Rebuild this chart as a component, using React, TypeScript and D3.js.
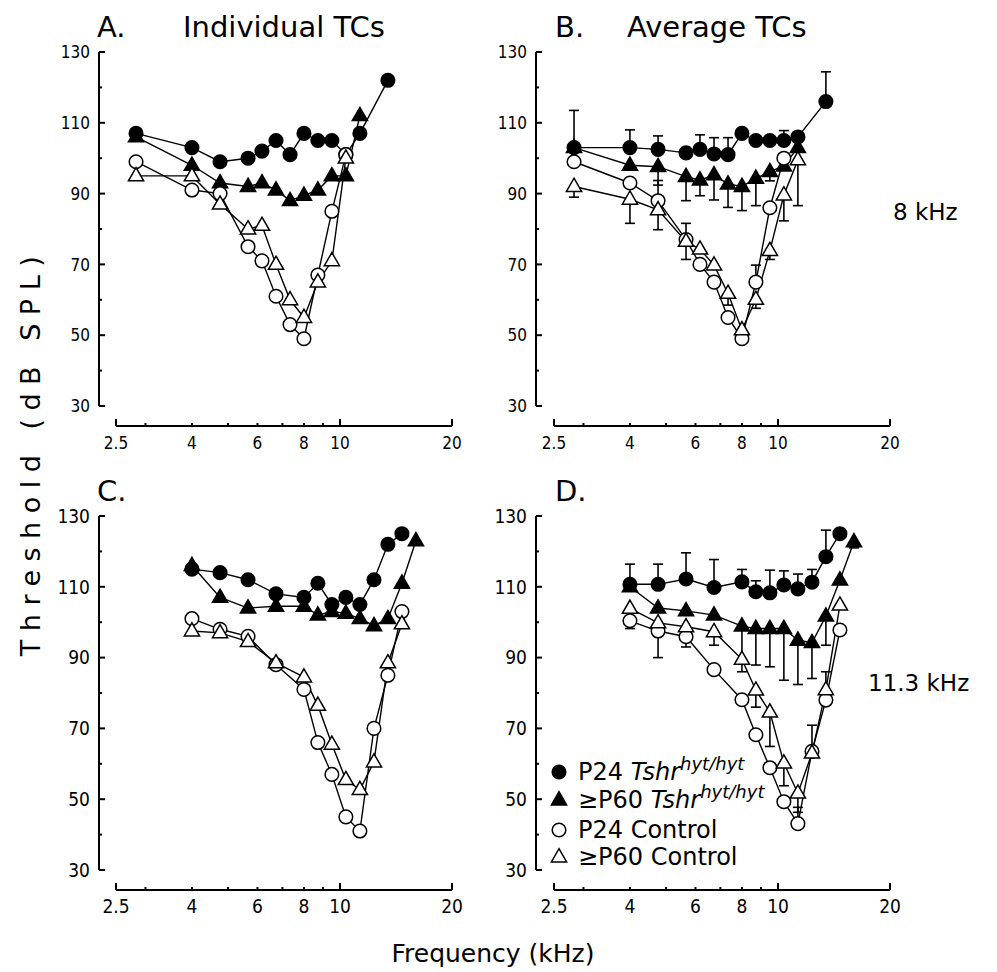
import React from "react";
import * as d3 from "d3";

// ---------- data ----------
const FREQ_8 = [2.83, 4, 4.76, 5.66, 6.17, 6.73, 7.34, 8, 8.72, 9.51, 10.37, 11.31, 13.45];
const FREQ_11 = [4, 4.76, 5.66, 6.73, 8, 8.72, 9.51, 10.37, 11.31, 12.34, 13.45, 14.67, 16];

const X_TICKS_MAJOR = [2.5, 10, 20];
const X_TICKS_MINOR = [3, 4, 5, 6, 7, 8, 9];
const X_TICK_LABELS = [2.5, 4, 6, 8, 10, 20];
const Y_TICKS_MAJOR = [30, 50, 70, 90, 110, 130];
const Y_TICKS_MINOR = [40, 60, 80, 100, 120];

// Panel A (individual, 8 kHz)
const A_P24_HYT = [107, 103, 99, 100, 102, 105, 101, 107, 105, 105, 101, 107, 122];
const A_P60_HYT = [106, 98, 93, 92, 93, 91, 88, 89.5, 91, 95, 95, 112];
const A_P24_CTL = [99, 91, 90, 75, 71, 61, 53, 49, 67, 85, 101];
const A_P60_CTL = [95, 95, 87, 80, 81, 70, 60, 55, 65, 71, 100];

// Panel B (average, 8 kHz) with error-bar ends
const B_P24_HYT = [103, 103, 102.5, 101.5, 102.5, 101.2, 101, 107, 105, 105, 105, 106, 116];
const B_P24_HYT_ERR = [113.5, 108, 106.3, 103, 106.6, 105.8, 105.8, null, null, null, 107.8, null, 124.4];
const B_P60_HYT = [103, 98, 97.6, 94.8, 93.8, 95.3, 92.7, 92, 94.3, 96.2, 97.8, 103];
const B_P60_HYT_ERR = [null, null, 92.4, 88, 89.4, 88.2, 86.1, 85.2, 86.6, 93.6, null, null];
const B_P24_CTL = [99, 93, 88, 77, 70, 65, 55, 49, 65, 86, 100];
const B_P24_CTL_ERR = [null, null, 93.7, 81.6, null, null, null, null, 69.8, null, null];
const B_P60_CTL = [92, 88.4, 85.4, 76.5, 74.3, 69.8, 61.8, 51.5, 60.1, 73.9, 89.6, 99.5];
const B_P60_CTL_ERR = [89, 81.6, 79.8, 71.4, null, null, 58.5, null, 57.6, 71.4, 82.3, 86.6];

// Panel C (individual, 11.3 kHz)
const C_P24_HYT = [115, 114, 112, 108, 107, 111, 105, 107, 105, 112, 122, 125];
const C_P60_HYT = [116, 107, 104, 104.5, 104.5, 102, 103, 102.5, 101, 99, 101, 111, 123];
const C_P24_CTL = [101, 98, 96, 88, 81, 66, 57, 45, 41, 70, 85, 103];
const C_P60_CTL = [97.5, 97, 94.5, 88.5, 84.5, 76.5, 65.5, 55.5, 52.7, 60.5, 88.5, 99.5];

// Panel D (average, 11.3 kHz)
const D_P24_HYT = [110.7, 110.7, 112.2, 109.8, 111.4, 108.6, 108.3, 110.5, 109.4, 111.3, 118.5, 125];
const D_P24_HYT_ERR = [116.4, 116.4, 119.6, 117.7, 114.9, 111.7, 114.7, 114.5, 113.6, 114.9, 126, null];
const D_P60_HYT = [110, 104, 103.2, 102, 98.9, 98.2, 98.2, 98.2, 94.9, 94.2, 101.7, 111.9, 122.7];
const D_P60_HYT_ERR = [null, null, null, null, 88.5, 87.9, 87.4, 83.6, 82.4, 84.1, 93.5, null, 121];
const D_P24_CTL = [100.4, 97.5, 95.9, 86.6, 78.1, 68.2, 58.9, 49.3, 43.1, 63.5, 78, 97.8];
const D_P24_CTL_ERR = [98.2, 90, 93, null, null, null, null, null, 47.7, 70.9, null, null];
const D_P60_CTL = [103.9, 99.8, 98.7, 97.3, 89.5, 80.8, 74.6, 60.2, 51.7, 63, 80.9, 104.8];
const D_P60_CTL_ERR = [null, null, null, 93.5, 86, 76, 64.9, 53.8, 46.3, null, 86, null];

const LEGEND = [
  { pre: "P24 ", it: "Tshr", sup: "hyt/hyt", shape: "circle", filled: true },
  { pre: "\u2265P60 ", it: "Tshr", sup: "hyt/hyt", shape: "triangle", filled: true },
  { pre: "P24  Control", it: "", sup: "", shape: "circle", filled: false },
  { pre: "\u2265P60  Control", it: "", sup: "", shape: "triangle", filled: false },
];

// ---------- drawing ----------
const FONT = "'DejaVu Sans', sans-serif";
const COND = "'DejaVu Sans Condensed', 'DejaVu Sans', sans-serif";
const R = 6.8;
const TRI = 100;

type Series = {
  values: number[];
  err?: (number | null)[];
  shape: "circle" | "triangle";
  filled: boolean;
};

const triPath = d3.symbol().type(d3.symbolTriangle).size(TRI)() as string;

function Marker({ cx, cy, shape, filled }: { cx: number; cy: number; shape: string; filled: boolean }) {
  const fill = filled ? "#000" : "#fff";
  if (shape === "circle")
    return <circle cx={cx} cy={cy} r={R} fill={fill} stroke="#000" strokeWidth={1.5} />;
  return <path d={triPath} transform={`translate(${cx},${cy + 0.5})`} fill={fill} stroke="#000" strokeWidth={1.5} />;
}

function Panel({
  axisX, x0, x1, yTop, yBot, xAxisY, freqs, series, tickSize,
}: {
  axisX: number; x0: number; x1: number; yTop: number; yBot: number; xAxisY: number;
  freqs: number[]; series: Series[]; tickSize: number;
}) {
  const x = d3.scaleLog().domain([2.5, 20]).range([x0, x1]);
  const y = d3.scaleLinear().domain([30, 130]).range([yBot, yTop]);
  const line = d3.line<number>().x((_, i) => x(freqs[i])).y((d) => y(d));
  return (
    <g>
      {/* y axis */}
      <line x1={axisX} x2={axisX} y1={y(130)} y2={y(30)} stroke="#000" strokeWidth={2} />
      {Y_TICKS_MAJOR.map((t) => (
        <g key={"ym" + t}>
          <line x1={axisX} x2={axisX + 6} y1={y(t)} y2={y(t)} stroke="#000" strokeWidth={2} />
          <text x={axisX - 9} y={y(t)} dy="0.36em" textAnchor="end" fontFamily={COND} fontSize={tickSize}>{t}</text>
        </g>
      ))}
      {Y_TICKS_MINOR.map((t) => (
        <line key={"yn" + t} x1={axisX} x2={axisX + 3} y1={y(t)} y2={y(t)} stroke="#000" strokeWidth={2} />
      ))}
      {/* x axis */}
      <line x1={x(2.5)} x2={x(20)} y1={xAxisY} y2={xAxisY} stroke="#000" strokeWidth={2} />
      {X_TICKS_MAJOR.map((t) => (
        <line key={"xm" + t} x1={x(t)} x2={x(t)} y1={xAxisY} y2={xAxisY - 7} stroke="#000" strokeWidth={2} />
      ))}
      {X_TICKS_MINOR.map((t) => (
        <line key={"xn" + t} x1={x(t)} x2={x(t)} y1={xAxisY} y2={xAxisY - 3} stroke="#000" strokeWidth={2} />
      ))}
      {X_TICK_LABELS.map((t) => (
        <text key={"xl" + t} x={x(t)} y={xAxisY + 23} textAnchor="middle" fontFamily={COND} fontSize={tickSize}>{t}</text>
      ))}
      {/* lines */}
      {series.map((s, k) => (
        <path key={"l" + k} d={line(s.values) as string} fill="none" stroke="#000" strokeWidth={1.4} />
      ))}
      {/* error bars */}
      {series.map((s, k) =>
        (s.err || []).map((e, i) =>
          e == null ? null : (
            <g key={"e" + k + "-" + i}>
              <line x1={x(freqs[i])} x2={x(freqs[i])} y1={y(s.values[i])} y2={y(e)} stroke="#000" strokeWidth={1.6} />
              <line x1={x(freqs[i]) - 5} x2={x(freqs[i]) + 5} y1={y(e)} y2={y(e)} stroke="#000" strokeWidth={1.6} />
            </g>
          )
        )
      )}
      {/* markers */}
      {series.map((s, k) =>
        s.values.map((v, i) => (
          <Marker key={"m" + k + "-" + i} cx={x(freqs[i])} cy={y(v)} shape={s.shape} filled={s.filled} />
        ))
      )}
    </g>
  );
}

export default function App() {
  const LEFT = { axisX: 99, x0: 116, x1: 452 };
  const RIGHT = { axisX: 536, x0: 554, x1: 890 };
  const TOP = { yTop: 52, yBot: 406, xAxisY: 426 };
  const BOT = { yTop: 516, yBot: 870, xAxisY: 890 };

  const seriesA: Series[] = [
    { values: A_P24_HYT, shape: "circle", filled: true },
    { values: A_P60_HYT, shape: "triangle", filled: true },
    { values: A_P24_CTL, shape: "circle", filled: false },
    { values: A_P60_CTL, shape: "triangle", filled: false },
  ];
  const seriesB: Series[] = [
    { values: B_P24_HYT, err: B_P24_HYT_ERR, shape: "circle", filled: true },
    { values: B_P60_HYT, err: B_P60_HYT_ERR, shape: "triangle", filled: true },
    { values: B_P24_CTL, err: B_P24_CTL_ERR, shape: "circle", filled: false },
    { values: B_P60_CTL, err: B_P60_CTL_ERR, shape: "triangle", filled: false },
  ];
  const seriesC: Series[] = [
    { values: C_P24_HYT, shape: "circle", filled: true },
    { values: C_P60_HYT, shape: "triangle", filled: true },
    { values: C_P24_CTL, shape: "circle", filled: false },
    { values: C_P60_CTL, shape: "triangle", filled: false },
  ];
  const seriesD: Series[] = [
    { values: D_P24_HYT, err: D_P24_HYT_ERR, shape: "circle", filled: true },
    { values: D_P60_HYT, err: D_P60_HYT_ERR, shape: "triangle", filled: true },
    { values: D_P24_CTL, err: D_P24_CTL_ERR, shape: "circle", filled: false },
    { values: D_P60_CTL, err: D_P60_CTL_ERR, shape: "triangle", filled: false },
  ];

  const legendY = [772, 800, 830, 857];

  return (
    <svg width={997} height={972} style={{ position: "absolute", left: 0, top: 0, background: "#fff" }}>
      <rect width={997} height={972} fill="#fff" />
      {/* titles */}
      <g fontFamily={FONT} fontSize={29}>
        <text x={97} y={37}>A.</text>
        <text x={183} y={37}>Individual TCs</text>
        <text x={555} y={37}>B.</text>
        <text x={627} y={37}>Average TCs</text>
        <text x={97} y={501}>C.</text>
        <text x={555} y={501}>D.</text>
      </g>
      <g fontFamily={FONT} fontSize={23}>
        <text x={893} y={220}>8 kHz</text>
        <text x={868} y={691}>11.3 kHz</text>
      </g>
      <text x={493} y={962} textAnchor="middle" fontFamily={FONT} fontSize={25}>Frequency (kHz)</text>
      <text
        transform="translate(40,452) rotate(-90)"
        textAnchor="middle"
        fontFamily={FONT}
        fontSize={27}
        letterSpacing={8.5}
      >
        Threshold (dB SPL)
      </text>

      <Panel {...LEFT} {...TOP} freqs={FREQ_8} series={seriesA} tickSize={17} />
      <Panel {...RIGHT} {...TOP} freqs={FREQ_8} series={seriesB} tickSize={17} />
      <Panel {...LEFT} {...BOT} freqs={FREQ_11} series={seriesC} tickSize={19} />
      <Panel {...RIGHT} {...BOT} freqs={FREQ_11} series={seriesD} tickSize={19} />

      {/* legend */}
      {LEGEND.map((l, i) => (
        <g key={"lg" + i}>
          <Marker cx={559} cy={legendY[i]} shape={l.shape} filled={l.filled} />
          <text x={578} y={legendY[i] + 8} fontFamily={FONT} fontSize={24}>
            <tspan>{l.pre}</tspan>
            {l.it ? <tspan fontStyle="italic">{l.it}</tspan> : null}
            {l.sup ? (
              <tspan fontStyle="italic" fontSize={18} dy={-10}>{l.sup}</tspan>
            ) : null}
          </text>
        </g>
      ))}
    </svg>
  );
}
